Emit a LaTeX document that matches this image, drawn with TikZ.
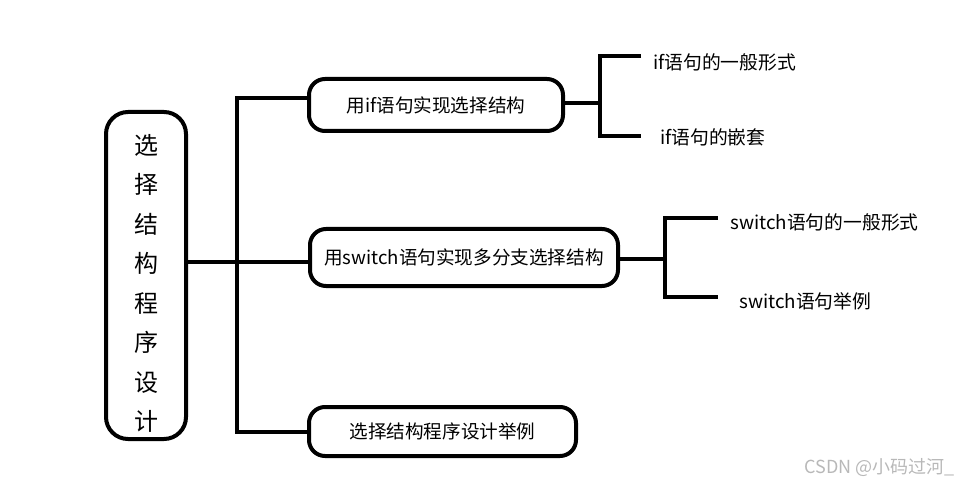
\documentclass[tikz,border=0pt]{standalone}
\usepackage{fontspec}
\setmainfont{Noto Sans CJK SC}
\begin{document}
\begin{tikzpicture}[x=1pt,y=-1pt,
  thick line/.style={line width=4pt},
  box/.style={draw, line width=4pt, rounded corners=16pt, inner sep=0pt, font=\fontsize{18.6}{21}\selectfont},
  leaf/.style={anchor=west, inner sep=0pt, font=\fontsize{18.8}{21}\selectfont},
]
\useasboundingbox (0,0) rectangle (960,494);
% main vertical box
\node[box, rounded corners=22pt, minimum width=80pt, minimum height=327pt] (main) at (146,275.5) {};
\node[inner sep=0pt, align=center, font=\fontsize{24}{39.5}\selectfont] (maintext) at (146,283.5)
  {选\\择\\结\\构\\程\\序\\设\\计};
% branch boxes
\node[box, minimum width=254pt, minimum height=52pt] (b1) at (436,105) {用if语句实现选择结构};
\node[box, minimum width=308pt, minimum height=57pt] (b2) at (464,257.5) {用switch语句实现多分支选择结构};
\node[box, minimum width=267pt, minimum height=49pt] (b3) at (442.5,431.5) {选择结构程序设计举例};
% trunk
\coordinate (tTop) at (237,98);
\coordinate (tMid) at (237,262);
\coordinate (tBot) at (237,432);
\draw[thick line] (tTop -| b1.west) -- (tTop) -- (tBot) -- (tBot -| b3.west);
\draw[thick line] (tMid -| main.east) -- (tMid -| b2.west);
% bracket for b1
\coordinate (k1) at (600,103);
\coordinate (k1t) at (600,56);
\coordinate (k1b) at (600,136);
\draw[thick line] (k1 -| b1.east) -- (k1);
\draw[thick line] (641,56) -- (k1t) -- (k1b) -- (641,136);
\node[leaf] (l1) at (653,62) {if语句的一般形式};
\node[leaf] (l2) at (660,137) {if语句的嵌套};
% bracket for b2
\coordinate (k2) at (665,259);
\coordinate (k2t) at (665,218);
\coordinate (k2b) at (665,297);
\draw[thick line] (k2 -| b2.east) -- (k2);
\draw[thick line] (718,218) -- (k2t) -- (k2b) -- (718,297);
\node[leaf] (l3) at (730,222) {switch语句的一般形式};
\node[leaf] (l4) at (739,301) {switch语句举例};
% watermark
\node[anchor=east, inner sep=0pt, text=black!28, font=\fontsize{18}{20}\selectfont] (wm) at (955,468) {CSDN @小码过河\_};
\end{tikzpicture}
\end{document}
